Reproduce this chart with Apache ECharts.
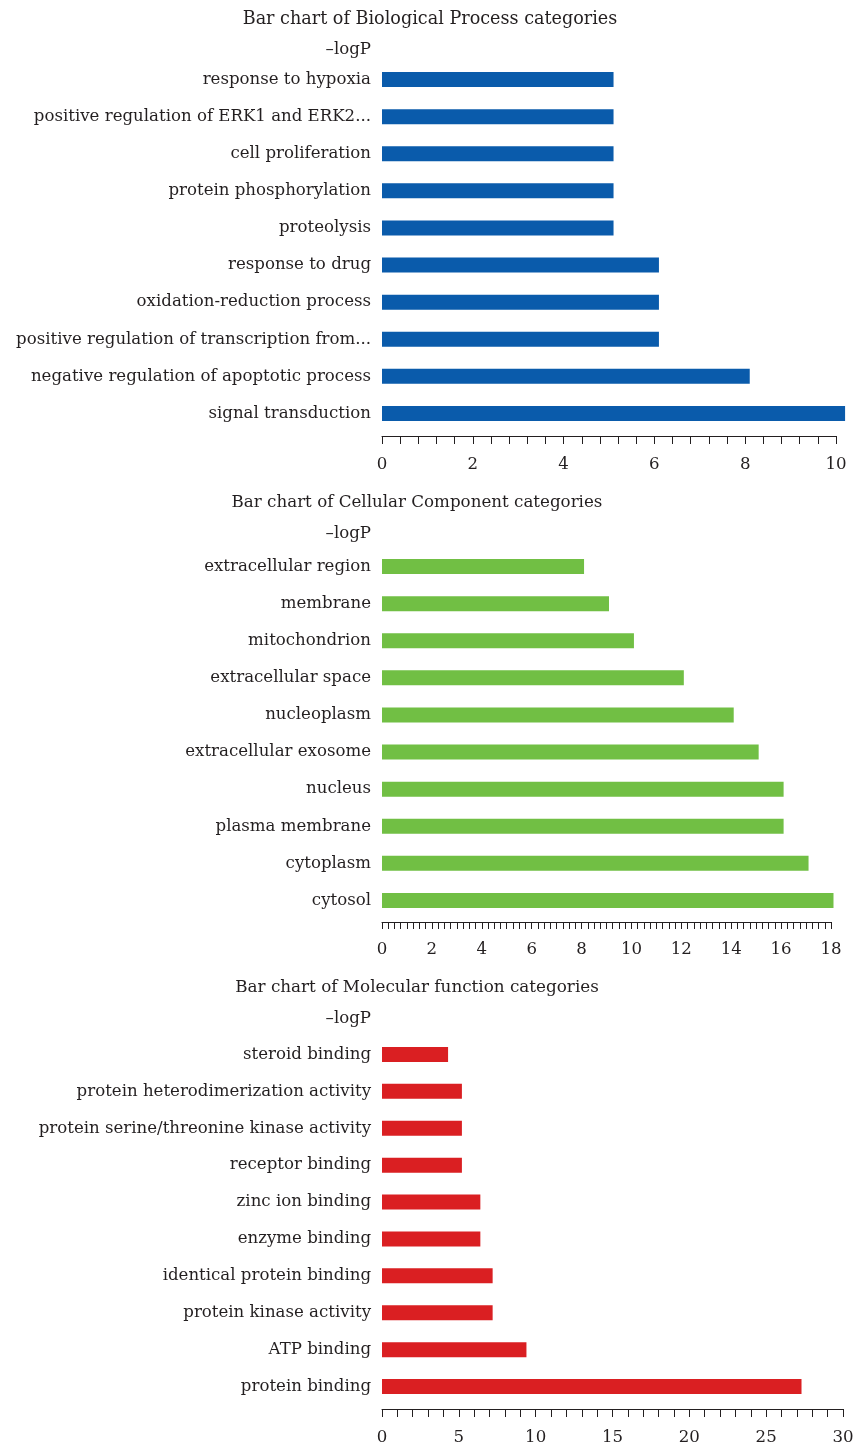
<!DOCTYPE html>
<html>
<head>
<meta charset="utf-8">
<script src="https://cdn.jsdelivr.net/npm/echarts@6/dist/echarts.min.js"></script>
<style>
html,body{margin:0;padding:0;background:#fff}
#c{width:857px;height:1446px}
</style>
</head>
<body>
<div id="c"></div>
<script>
// ---- data (top-to-bottom as shown) ----
const bpTitle = 'Bar chart of Biological Process categories';
const bpCategories = ['response to hypoxia', 'positive regulation of ERK1 and ERK2...', 'cell proliferation', 'protein phosphorylation', 'proteolysis', 'response to drug', 'oxidation-reduction process', 'positive regulation of transcription from...', 'negative regulation of apoptotic process', 'signal transduction'];
const bpValues = [5.1, 5.1, 5.1, 5.1, 5.1, 6.1, 6.1, 6.1, 8.1, 10.2];

const ccTitle = 'Bar chart of Cellular Component categories';
const ccCategories = ['extracellular region', 'membrane', 'mitochondrion', 'extracellular space', 'nucleoplasm', 'extracellular exosome', 'nucleus', 'plasma membrane', 'cytoplasm', 'cytosol'];
const ccValues = [8.1, 9.1, 10.1, 12.1, 14.1, 15.1, 16.1, 16.1, 17.1, 18.1];

const mfTitle = 'Bar chart of Molecular function categories';
const mfCategories = ['steroid binding', 'protein heterodimerization activity', 'protein serine/threonine kinase activity', 'receptor binding', 'zinc ion binding', 'enzyme binding', 'identical protein binding', 'protein kinase activity', 'ATP binding', 'protein binding'];
const mfValues = [4.3, 5.2, 5.2, 5.2, 6.4, 6.4, 7.2, 7.2, 9.4, 27.3];

const axisName = '\u2013logP';
const xMax = [10, 18, 30];
const xInterval = [2, 2, 5];
const xMinorSplit = [5, 8, 5];

// ---- style ----
const FONT = 'DejaVu Serif';
const TXT = '#231f20';
const FS = 16.6;
const colors = ['#0a5bab', '#71bf44', '#da1f22'];
const grids = [
  {left: 382, top: 61, width: 454, height: 371},
  {left: 382, top: 548, width: 449, height: 371},
  {left: 382, top: 1036, width: 461, height: 369}
];
const axisOffsets = [4, 3, 4];
const tickLens = [8, 7, 8];
const labelMargins = [20, 19, 20];
const nameGaps = [3, 6, 9];
const titlePos = [[430, 19], [417, 503], [417, 988]];
const titleSizes = [17.6, 16.7, 16.8];

const panels = [
  [bpTitle, bpCategories, bpValues],
  [ccTitle, ccCategories, ccValues],
  [mfTitle, mfCategories, mfValues]
];

const option = {
  animation: false,
  backgroundColor: '#fff',
  grid: grids.map(g => Object.assign({containLabel: false}, g)),
  xAxis: panels.map((p, i) => ({
    type: 'value', gridIndex: i, min: 0, max: xMax[i], interval: xInterval[i],
    offset: axisOffsets[i],
    axisLine: {show: true, lineStyle: {color: TXT, width: 1}},
    axisTick: {show: true, length: tickLens[i], lineStyle: {color: TXT, width: 1}},
    minorTick: {show: true, splitNumber: xMinorSplit[i], length: tickLens[i], lineStyle: {color: TXT, width: 1}},
    splitLine: {show: false},
    minorSplitLine: {show: false},
    axisLabel: {color: TXT, fontFamily: FONT, fontSize: FS, margin: labelMargins[i]}
  })),
  yAxis: panels.map((p, i) => ({
    type: 'category', gridIndex: i, data: p[1].slice().reverse(),
    name: axisName, nameLocation: 'end', nameGap: nameGaps[i],
    nameTextStyle: {color: TXT, fontFamily: FONT, fontSize: FS, align: 'right', padding: [0, 11, 0, 0]},
    axisLine: {show: false}, axisTick: {show: false}, splitLine: {show: false},
    axisLabel: {color: TXT, fontFamily: FONT, fontSize: FS, margin: 11}
  })),
  series: panels.map((p, i) => ({
    type: 'bar', xAxisIndex: i, yAxisIndex: i, data: p[2].slice().reverse(),
    barWidth: 15, clip: false, itemStyle: {color: colors[i]}
  })),
  graphic: panels.map((p, i) => ({
    type: 'text', x: titlePos[i][0], y: titlePos[i][1],
    style: {text: p[0], fill: TXT, fontFamily: FONT, fontSize: titleSizes[i], align: 'center', verticalAlign: 'middle'}
  }))
};

const chart = echarts.init(document.getElementById('c'), null, {renderer: 'canvas'});
chart.setOption(option);
</script>
</body>
</html>
